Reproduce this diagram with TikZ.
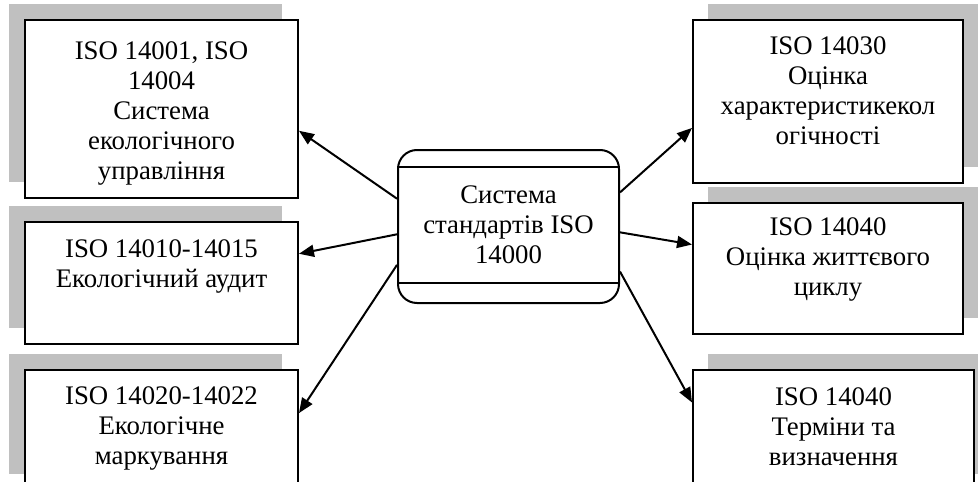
\documentclass[tikz,border=0pt]{standalone}
\usepackage{fontspec}
\setmainfont{Liberation Serif}
\usepackage{xcolor}
\usetikzlibrary{arrows.meta}
\usetikzlibrary{positioning}
\usetikzlibrary{shadows}
\definecolor{shadowgray}{RGB}{192,192,192}
\tikzset{
  box/.style={draw, line width=1pt, fill=white, inner sep=0pt},
  lbox/.style={box, general shadow={fill=shadowgray, shadow xshift=-8pt, shadow yshift=8pt}},
  rbox/.style={box, general shadow={fill=shadowgray, shadow xshift=7.5pt, shadow yshift=8pt}},
  txt/.style={align=center, inner sep=0pt, font=\fontsize{13.4}{15}\selectfont},
  link/.style={line width=1pt, -{Triangle[length=7.5pt,width=6pt]}}
}
\begin{document}
\begin{tikzpicture}[x=0.5pt,y=-0.5pt]
    	\useasboundingbox (0,0) rectangle (978,481);
    	\clip (0,0) rectangle (978,481);
    	% left column
    	\node[lbox, minimum width=136.5pt, minimum height=89pt] (iso1) at (161.5,109) {};
    	\node[lbox, minimum width=136.5pt, minimum height=61pt] (iso2) at (161.5,283) {};
    	\node[lbox, minimum width=136.5pt, minimum height=60pt] (iso3) at (161.5,430) {};
    	\node[txt, below=11pt of iso1.north] (iso1t) {ISO 14001, ISO\\14004\\Система\\екологічного\\управління};
    	\node[txt, below=9pt of iso2.north] (iso2t) {ISO 14010-14015\\Екологічний аудит};
    	\node[txt, below=8.5pt of iso3.north] (iso3t) {ISO 14020-14022\\Екологічне\\маркування};
    	% right column
    	\node[rbox, minimum width=135pt, minimum height=81.5pt] (iso4) at (828,101.5) {};
    	\node[rbox, minimum width=135pt, minimum height=65.5pt] (iso5) at (828,268.5) {};
    	\node[rbox, minimum width=140.5pt, minimum height=60pt] (iso6) at (833.5,430) {};
    	\node[txt, below=8.5pt of iso4.north] (iso4t) {ISO 14030\\Оцінка\\характеристикекол\\огічності};
    	\node[txt, below=7.5pt of iso5.north] (iso5t) {ISO 14040\\Оцінка життєвого\\циклу};
    	\node[txt, below=9pt of iso6.north] (iso6t) {ISO 14040\\Терміни та\\визначення};
    	% centre
    	\node[box, rounded corners=9.5pt, minimum width=110.5pt, minimum height=76.5pt] (core) at (508.5,226.5) {};
    	\draw[line width=1pt] ([yshift=-9pt]core.north west) -- ([yshift=-9pt]core.north east);
    	\draw[line width=1pt] ([yshift=10.5pt]core.south west) -- ([yshift=10.5pt]core.south east);
    	\node[txt, below=18pt of core.north] (coret) {Система\\стандартів ISO\\14000};
    	% arrows
    	\draw[link] (core.166) -- (iso1.-9.2);
    	\draw[link] (core.-176.1) -- (iso2.12.4);
    	\draw[link] (core.199.2) -- (iso3.7.1);
    	\draw[link] (core.17.3) -- (iso4.191.9);
    	\draw[link] (core.-3.4) -- (iso5.170.1);
    	\draw[link] (core.-22.8) -- (iso6.169.9);
    	\end{tikzpicture}
\end{document}
